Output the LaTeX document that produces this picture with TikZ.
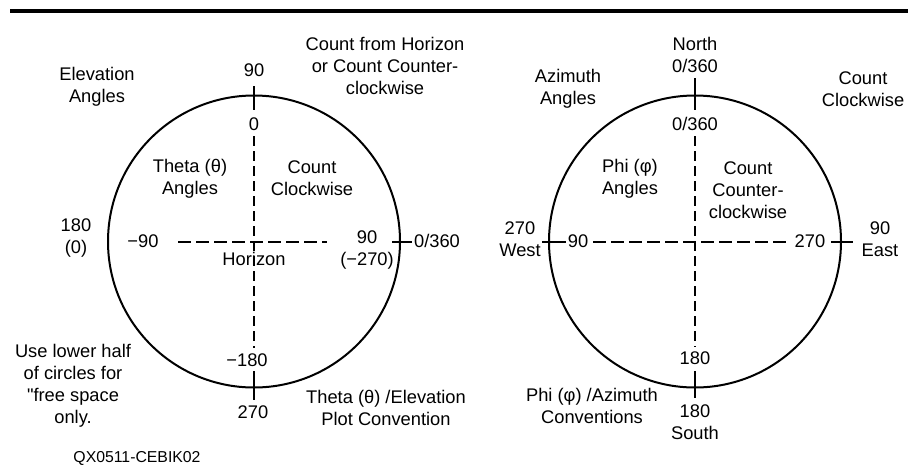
\documentclass[tikz,border=0pt]{standalone}
\usepackage{fontspec}
\setmainfont{Liberation Sans}
% straight double quote, set as a glyph so the TeX text mapping leaves it alone
\newcommand{\straightquote}{\XeTeXglyph\XeTeXcharglyph"22\relax}
\begin{document}
\begin{tikzpicture}[x=1pt,y=-1pt,
  lbl/.style={font=\fontsize{18.3}{22}\selectfont, align=center, inner sep=0pt},
  small/.style={font=\fontsize{15.8}{19}\selectfont, inner sep=0pt},
  ring/.style={line width=2pt},
  vdash/.style={line width=2pt, dash pattern=on 10pt off 5pt},
  hdash/.style={line width=2pt, dash pattern=on 13pt off 5pt},
  tick/.style={line width=2pt},
  rule/.style={line width=3.5pt}]
\useasboundingbox (0,0) rectangle (909,467);

% heading rule
\coordinate (ruleL) at (10,11);
\coordinate (ruleR) at (908,11);
\draw[rule] (ruleL) -- (ruleR);

% ---------- elevation (theta) circle ----------
\coordinate (c1) at (254,241.5);
\draw[ring] (c1) circle[radius=146];

\coordinate (t1a) at (254,86);
\coordinate (t1b) at (254,110);
\coordinate (v1a) at (254,136);
\coordinate (v1b) at (254,348);
\coordinate (b1a) at (254,371);
\coordinate (b1b) at (254,400);
\coordinate (h1a) at (178,241.5);
\coordinate (h1b) at (327,241.5);
\coordinate (r1a) at (392,241.5);
\coordinate (r1b) at (412,241.5);

\draw[tick] (t1a) -- (t1b);
\draw[vdash] (v1a) -- (v1b);
\draw[tick] (b1a) -- (b1b);
\draw[hdash] (h1a) -- (h1b);
\draw[tick] (r1a) -- (r1b);

\node[lbl] (elev) at (97,87) {Elevation\\Angles};
\node[lbl] (top90) at (254,70) {90};
\node[lbl] (cfh) at (385,66) {Count from Horizon\\or Count Counter-\\clockwise};
\node[lbl] (zero) at (254,124) {0};
\node[lbl] (theta) at (190,179) {Theta (θ)\\Angles};
\node[lbl] (cw1) at (312,178) {Count\\Clockwise};
\node[lbl] (l180) at (76,238) {180\\(0)};
\node[lbl] (m90) at (143,241) {−90};
\node[lbl] (p90) at (367,250) {90\\(−270)};
\node[lbl] (r0360) at (437,241) {0/360};
\node[lbl] (horizon) at (254,259) {Horizon};
\node[lbl] (m180) at (247,360) {−180};
\node[lbl] (b270) at (253,412) {270};
\node[lbl] (use) at (73,386) {Use lower half\\of circles for\\\straightquote free space\\only.};
\node[lbl] (thetaconv) at (386,408) {Theta (θ) /Elevation\\Plot Convention};
\node[small] (id) at (137,458) {QX0511-CEBIK02};

% ---------- azimuth (phi) circle ----------
\coordinate (c2) at (695,241.5);
\draw[ring] (c2) circle[radius=146];

\coordinate (t2a) at (695,78);
\coordinate (t2b) at (695,110);
\coordinate (v2a) at (695,136);
\coordinate (v2b) at (695,347);
\coordinate (b2a) at (695,371);
\coordinate (b2b) at (695,398);
\coordinate (l2a) at (542,241.5);
\coordinate (l2b) at (566,241.5);
\coordinate (h2a) at (593,241.5);
\coordinate (h2b) at (790,241.5);
\coordinate (r2a) at (831,241.5);
\coordinate (r2b) at (853,241.5);

\draw[tick] (t2a) -- (t2b);
\draw[vdash] (v2a) -- (v2b);
\draw[tick] (b2a) -- (b2b);
\draw[tick] (l2a) -- (l2b);
\draw[hdash] (h2a) -- (h2b);
\draw[tick] (r2a) -- (r2b);

\node[lbl] (north) at (695,55) {North\\0/360};
\node[lbl] (azim) at (568,88.5) {Azimuth\\Angles};
\node[lbl] (cw2) at (863,89.5) {Count\\Clockwise};
\node[lbl] (in0360) at (695,124) {0/360};
\node[lbl] (phi) at (630,179) {Phi (φ)\\Angles};
\node[lbl] (ccw) at (748,190) {Count\\Counter-\\clockwise};
\node[lbl] (west) at (520,239) {270\\West};
\node[lbl] (in90) at (578,241) {90};
\node[lbl] (in270) at (810,241) {270};
\node[lbl] (east) at (880,239) {90\\East};
\node[lbl] (in180) at (695,358) {180};
\node[lbl] (south) at (695,422.5) {180\\South};
\node[lbl] (phiconv) at (592,406) {Phi (φ) /Azimuth\\Conventions};
\end{tikzpicture}
\end{document}
